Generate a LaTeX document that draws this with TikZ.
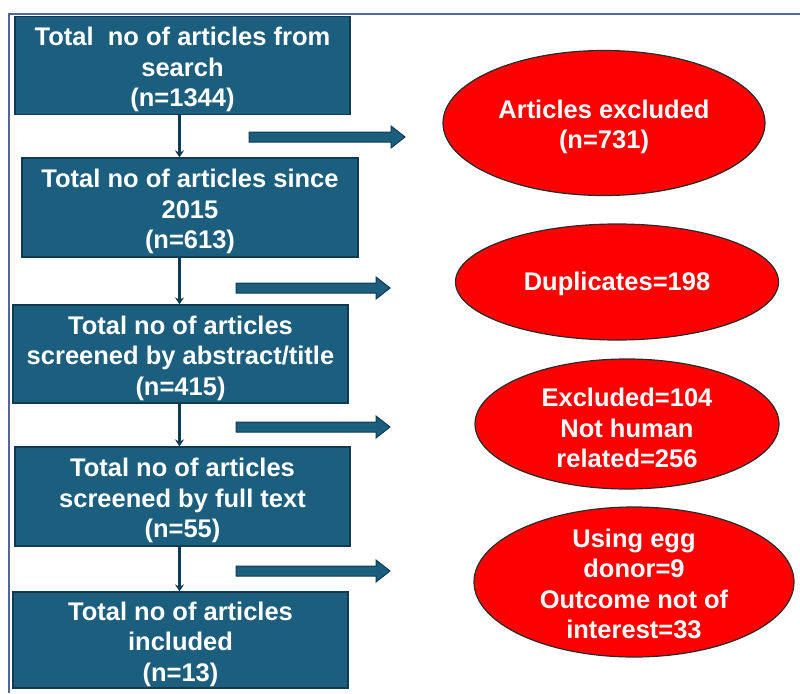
\documentclass[tikz,border=0pt]{standalone}
\usepackage{fontspec}
\setmainfont{Liberation Sans}
\usetikzlibrary{shapes.geometric,arrows.meta,calc}
\definecolor{boxblue}{HTML}{1B5E7E}
\definecolor{boxedge}{HTML}{0F3B52}
\definecolor{exred}{HTML}{FF0000}
\definecolor{exedge}{HTML}{2A2A2A}
\definecolor{frameblue}{HTML}{5066A0}
\newcommand{\sidearrow}[4]{% name, x start, x end, y
  \coordinate (#1s) at (#2,#4);
  \coordinate (#1e) at (#3,#4);
  \draw[blockarr] ($(#1s)+(0,-5)$) -- ($(#1e)+(-14,-5)$) -- ($(#1e)+(-14,-11)$)
    -- (#1e) -- ($(#1e)+(-14,11)$) -- ($(#1e)+(-14,5)$) -- ($(#1s)+(0,5)$) -- cycle;}
\begin{document}
\begin{tikzpicture}[x=1pt,y=-1pt,
  txt/.style={text=white, font=\bfseries\fontsize{25.5}{30.5}\selectfont, align=center,
    yshift=-4pt},
  stagebox/.style={draw=boxedge, line width=1.2pt, fill=boxblue, inner sep=0pt,
    minimum width=335pt, minimum height=98pt},
  exell/.style={ellipse, draw=exedge, line width=1.2pt, fill=exred, inner sep=0pt},
  blockarr/.style={draw=boxedge, line width=1pt, fill=boxblue, line join=miter},
  downarr/.style={draw=boxedge, line width=3pt, -{Stealth[length=7pt,width=9pt]}}
]
\useasboundingbox (0,0) rectangle (800,693);
% frame
\draw[frameblue, line width=2pt] (9,693) -- (9,14) -- (800,14);

% stage boxes
\node[stagebox, label={[txt]center:Total\ \ no of articles from\\search\\(n=1344)}] (b1) at (182.5,65.5) {};
\node[stagebox, minimum width=336pt, minimum height=99pt,
  label={[txt]center:Total no of articles since\\2015\\(n=613)}] (b2) at (190,207.5) {};
\node[stagebox, label={[txt]center:Total no of articles\\screened by abstract/title\\(n=415)}] (b3) at (180.5,354) {};
\node[stagebox, minimum height=99pt,
  label={[txt]center:Total no of articles\\screened by full text\\(n=55)}] (b4) at (182.5,496.5) {};
\node[stagebox, minimum height=96pt,
  label={[txt]center:Total no of articles\\included\\(n=13)}] (b5) at (180.5,640) {};

% down connectors
\coordinate (xa) at (179.5,0);
\draw[downarr] (b1.south -| xa) -- (b2.north -| xa);
\draw[downarr] (b2.south -| xa) -- (b3.north -| xa);
\draw[downarr] (b3.south -| xa) -- (b4.north -| xa);
\draw[downarr] (b4.south -| xa) -- (b5.north -| xa);

% side arrows
\sidearrow{a1}{249}{405}{137}
\sidearrow{a2}{236}{390}{288}
\sidearrow{a3}{236}{390}{427}
\sidearrow{a4}{236}{390}{571}

% exclusion ellipses
\node[exell, minimum width=322pt, minimum height=145pt,
  label={[txt]center:Articles excluded\\(n=731)}] (e1) at (604,123) {};
\node[exell, minimum width=323pt, minimum height=116pt,
  label={[txt, yshift=2pt]center:Duplicates=198}] (e2) at (617,282) {};
\node[exell, minimum width=304pt, minimum height=130pt,
  label={[txt]center:Excluded=104\\Not human\\related=256}] (e3) at (627,424) {};
\node[exell, minimum width=320pt, minimum height=150pt,
  label={[txt, yshift=2pt]center:Using egg\\donor=9\\Outcome not of\\interest=33}] (e4) at (634,582) {};
\end{tikzpicture}
\end{document}
